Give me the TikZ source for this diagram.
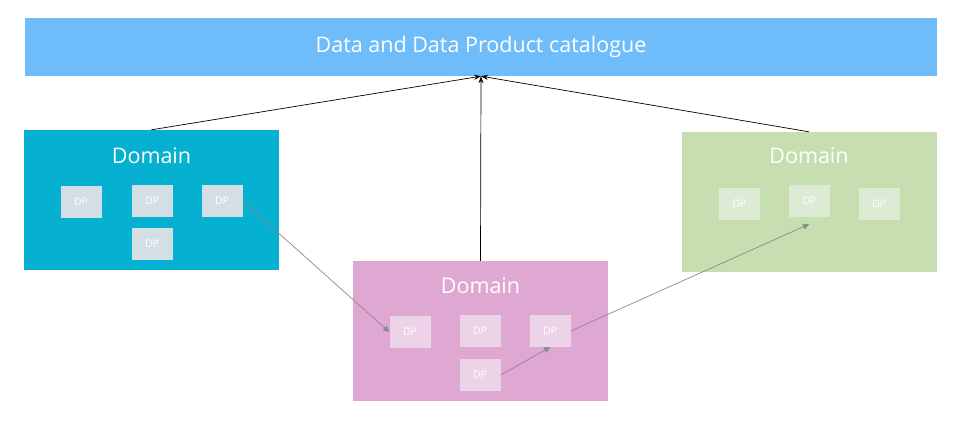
\documentclass[tikz,border=0pt]{standalone}
\usepackage{fontspec}
\setmainfont{Open Sans}
\usetikzlibrary{arrows.meta}

\definecolor{catblue}{HTML}{6EBCFA}
\definecolor{domblue}{HTML}{06B0D0}
\definecolor{dompink}{HTML}{DFA8D3}
\definecolor{domgreen}{HTML}{C6DEB0}
\definecolor{dpblue}{HTML}{D3DFE4}
\definecolor{dppink}{HTML}{EDD3E8}
\definecolor{dpgreen}{HTML}{DDEBD4}
\definecolor{linkgray}{HTML}{8A8A8A}

\begin{document}
\begin{tikzpicture}[x=1pt,y=-1pt,
  domainbox/.style={minimum width=255pt,minimum height=140pt,inner sep=0pt},
  domaintitle/.style={text=white,font=\fontsize{21.5}{24}\selectfont},
  dpbox/.style={minimum width=41pt,minimum height=32pt,inner sep=0pt,text=white,font=\fontsize{10.5}{12}\selectfont},
  catarrow/.style={-{Stealth[length=7pt,width=5pt]},black,line width=0.7pt},
  dparrow/.style={-{Triangle[length=6pt,width=6pt]},linkgray,line width=0.7pt}]
\useasboundingbox (0,0) rectangle (959,429);

% catalogue bar
\node[fill=catblue,minimum width=912pt,minimum height=58pt,inner sep=0pt,
  text=white,font=\fontsize{21.5}{24}\selectfont] (cat) at (481,47) {Data and Data Product catalogue};

% domains
\node[domainbox,fill=domblue] (domL) at (151.5,200) {};
\node[domainbox,fill=dompink] (domM) at (480.5,331) {};
\node[domainbox,fill=domgreen] (domR) at (809,202) {};
\node[domaintitle] (titL) at (151.5,156) {Domain};
\node[domaintitle] (titM) at (480.5,286) {Domain};
\node[domaintitle] (titR) at (809,156) {Domain};

% data products
\node[dpbox,fill=dpblue] (dpL1) at (81,202) {DP};
\node[dpbox,fill=dpblue] (dpL2) at (152,201) {DP};
\node[dpbox,fill=dpblue] (dpL3) at (222,201) {DP};
\node[dpbox,fill=dpblue] (dpL4) at (152,244) {DP};

\node[dpbox,fill=dppink] (dpM1) at (410,332) {DP};
\node[dpbox,fill=dppink] (dpM2) at (480,331) {DP};
\node[dpbox,fill=dppink] (dpM3) at (550,331) {DP};
\node[dpbox,fill=dppink] (dpM4) at (480,375) {DP};

\node[dpbox,fill=dpgreen] (dpR1) at (739,204) {DP};
\node[dpbox,fill=dpgreen] (dpR2) at (809,201) {DP};
\node[dpbox,fill=dpgreen] (dpR3) at (879,204) {DP};

% links to catalogue
\foreach \d in {domL,domM,domR}{
  \draw[catarrow] (\d.north) -- (cat.south);
}

% links between data products
\draw[dparrow] (dpL3.east) -- (dpM1.west);
\draw[dparrow] (dpM4.east) -- (dpM3.south);
\draw[dparrow] (dpM3.east) -- ([yshift=-7pt]dpR2.south);
\end{tikzpicture}
\end{document}
